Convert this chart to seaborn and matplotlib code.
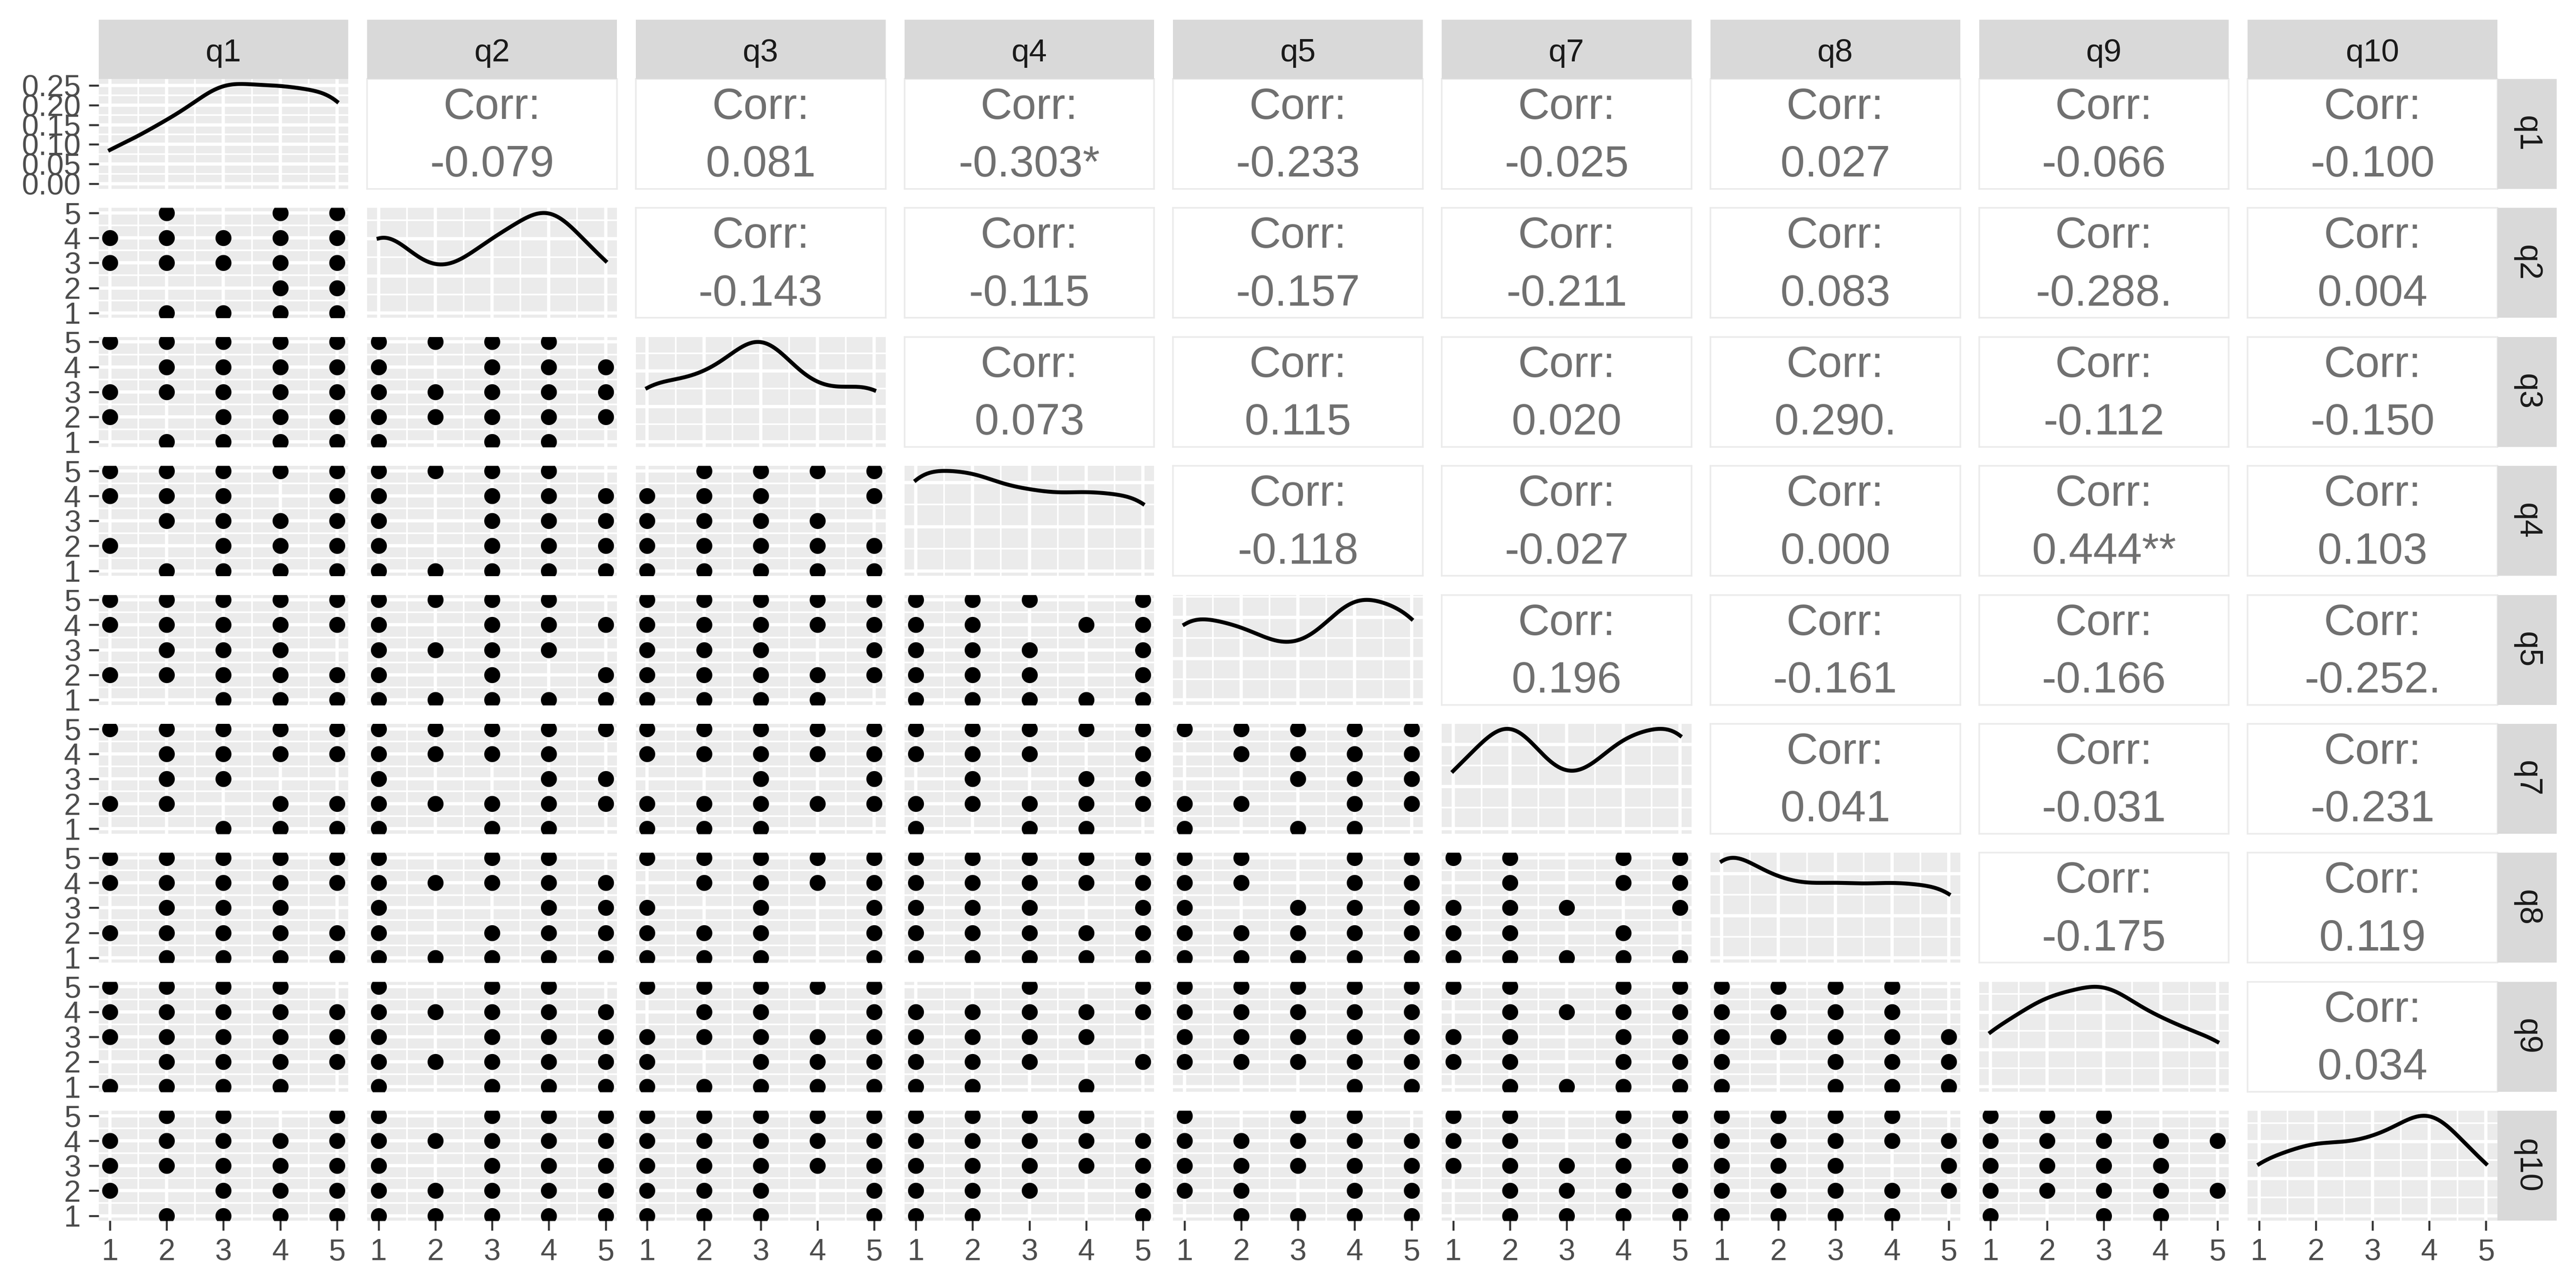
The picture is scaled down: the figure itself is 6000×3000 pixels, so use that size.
import numpy as np
import pandas as pd
import matplotlib.pyplot as plt
import seaborn as sns
from matplotlib.ticker import MultipleLocator, MaxNLocator, FormatStrFormatter

plt.rcParams["font.family"] = ["Liberation Sans", "DejaVu Sans"]

VARS = ["q1", "q2", "q3", "q4", "q5", "q7", "q8", "q9", "q10"]
LEVELS = [1, 2, 3, 4, 5]
Y_ORDER = [5, 4, 3, 2, 1]

# how many answers fall on each level 1..5 (drives the diagonal densities)
COUNTS_Q1 = [4, 7, 12, 11, 11]
COUNTS_Q2 = [12, 4, 9, 14, 6]
COUNTS_Q3 = [8, 8, 15, 6, 8]
COUNTS_Q4 = [11, 10, 8, 8, 8]
COUNTS_Q5 = [10, 8, 5, 12, 10]
COUNTS_Q7 = [6, 13, 4, 10, 12]
COUNTS_Q8 = [13, 8, 8, 8, 8]
COUNTS_Q9 = [7, 11, 13, 8, 6]
COUNTS_Q10 = [7, 9, 9, 14, 6]

# lower panels: one entry per column left of the diagonal,
# each entry = x values present at y = 5, 4, 3, 2, 1
PTS_Q2 = [["245", "12345", "12345", "45", "2345"]]
PTS_Q3 = [
    ["12345", "2345", "12345", "1345", "2345"],
    ["1234", "1345", "12345", "12345", "134"],
]
PTS_Q4 = [
    ["12345", "1235", "2345", "1345", "2345"],
    ["1234", "1345", "1345", "1345", "12345"],
    ["2345", "1235", "1234", "12345", "12345"],
]
PTS_Q5 = [
    ["12345", "12345", "234", "12345", "345"],
    ["1234", "1345", "1234", "135", "12345"],
    ["12345", "12345", "1235", "12345", "1234"],
    ["1235", "1245", "1235", "1235", "12345"],
]
PTS_Q7 = [
    ["12345", "2345", "23", "1245", "345"],
    ["12345", "1234", "145", "12345", "134"],
    ["12345", "12345", "35", "12345", "123"],
    ["12345", "1235", "245", "12345", "134"],
    ["12345", "2345", "345", "1245", "134"],
]
PTS_Q8 = [
    ["12345", "12345", "234", "12345", "2345"],
    ["134", "12345", "145", "1345", "12345"],
    ["12345", "2345", "135", "1235", "1235"],
    ["12345", "12345", "1235", "12345", "12345"],
    ["1245", "1245", "1345", "12345", "12345"],
    ["1245", "245", "1235", "124", "12345"],
]
PTS_Q9 = [
    ["1234", "12345", "12345", "2345", "1234"],
    ["134", "12345", "1345", "12345", "1345"],
    ["12345", "235", "12345", "1345", "12345"],
    ["35", "12345", "1234", "1235", "124"],
    ["12345", "12345", "12345", "12345", "45"],
    ["1245", "2345", "1245", "1245", "2345"],
    ["1234", "1234", "12345", "1345", "1345"],
]
PTS_Q10 = [
    ["235", "12345", "12345", "1345", "2345"],
    ["1345", "12345", "1345", "12345", "12345"],
    ["12345", "12345", "12345", "1235", "1235"],
    ["1234", "12345", "12345", "1235", "125"],
    ["134", "12345", "12345", "1245", "2345"],
    ["1245", "1245", "12345", "2345", "2345"],
    ["1234", "12345", "1235", "12345", "1234"],
    ["123", "12345", "1234", "12345", "134"],
]

# upper panels: correlation of the row variable with the columns to its right
CORR_Q1 = [-0.079, 0.081, -0.303, -0.233, -0.025, 0.027, -0.066, -0.100]
SIG_Q1 = ["", "", "*", "", "", "", "", ""]
CORR_Q2 = [-0.143, -0.115, -0.157, -0.211, 0.083, -0.288, 0.004]
SIG_Q2 = ["", "", "", "", "", ".", ""]
CORR_Q3 = [0.073, 0.115, 0.020, 0.290, -0.112, -0.150]
SIG_Q3 = ["", "", "", ".", "", ""]
CORR_Q4 = [-0.118, -0.027, 0.000, 0.444, 0.103]
SIG_Q4 = ["", "", "", "**", ""]
CORR_Q5 = [0.196, -0.161, -0.166, -0.252]
SIG_Q5 = ["", "", "", "."]
CORR_Q7 = [0.041, -0.031, -0.231]
SIG_Q7 = ["", "", ""]
CORR_Q8 = [-0.175, 0.119]
SIG_Q8 = ["", ""]
CORR_Q9 = [0.034]
SIG_Q9 = [""]

COUNTS = [COUNTS_Q1, COUNTS_Q2, COUNTS_Q3, COUNTS_Q4, COUNTS_Q5,
          COUNTS_Q7, COUNTS_Q8, COUNTS_Q9, COUNTS_Q10]
PTS = [[], PTS_Q2, PTS_Q3, PTS_Q4, PTS_Q5, PTS_Q7, PTS_Q8, PTS_Q9, PTS_Q10]
CORRS = [CORR_Q1, CORR_Q2, CORR_Q3, CORR_Q4, CORR_Q5, CORR_Q7, CORR_Q8, CORR_Q9]
SIGS = [SIG_Q1, SIG_Q2, SIG_Q3, SIG_Q4, SIG_Q5, SIG_Q7, SIG_Q8, SIG_Q9]

# long table of the scatter points
recs = []
for i, row in enumerate(PTS):
    for j, grid in enumerate(row):
        for yv, xs in zip(Y_ORDER, grid):
            for ch in xs:
                recs.append({"row": i, "col": j, "x": int(ch), "y": yv})
pts_df = pd.DataFrame(recs)

# layout in pixels of the 6000 x 3000 canvas
W, H = 6000, 3000
PX0, PSTEP, PW = 229.6, 625.7, 581.7
PY0, RSTEP, PH = 184.0, 300.4, 256.0
STRIP = 138.0
BW = 0.567

BG = "#EBEBEB"
STRIP_BG = "#D9D9D9"
TICK_KW = dict(length=5.5, width=1.1, color="#333333", labelsize=17,
               labelcolor="#4D4D4D", pad=4.4)


def rect(x, y, w, h):
    return [x / W, 1 - (y + h) / H, w / W, h / H]


def gg_panel(ax):
    ax.set_facecolor(BG)
    for s in ax.spines.values():
        s.set_visible(False)
    ax.set_axisbelow(True)
    ax.grid(True, which="major", color="white", linewidth=1.8)
    ax.grid(True, which="minor", color="white", linewidth=0.9)
    ax.set_xlim(0.8, 5.2)
    ax.xaxis.set_major_locator(MultipleLocator(1))
    ax.xaxis.set_minor_locator(MultipleLocator(0.5))
    ax.set_xlabel("")
    ax.set_ylabel("")
    ax.tick_params(which="both", length=0, labelbottom=False, labelleft=False)


fig = plt.figure(figsize=(20, 10), dpi=300)
n = len(VARS)

for i in range(n):
    for j in range(n):
        ax = fig.add_axes(rect(PX0 + j * PSTEP, PY0 + i * RSTEP, PW, PH))
        if i > j:
            sub = pts_df[(pts_df["row"] == i) & (pts_df["col"] == j)]
            sns.scatterplot(data=sub, x="x", y="y", color="black", s=80,
                            linewidth=0, ax=ax, legend=False)
            gg_panel(ax)
            ax.set_ylim(0.8, 5.2)
            ax.yaxis.set_major_locator(MultipleLocator(1))
            ax.yaxis.set_minor_locator(MultipleLocator(0.5))
        elif i == j:
            vals = np.repeat(LEVELS, COUNTS[i])
            sns.kdeplot(x=vals, bw_method=BW / np.std(vals, ddof=1), cut=0,
                        color="black", linewidth=2.2, ax=ax)
            gg_panel(ax)
            top = ax.lines[0].get_ydata().max()
            ax.set_ylim(-0.05 * top, 1.05 * top)
            if i == 0:
                ax.yaxis.set_major_locator(MultipleLocator(0.05))
                ax.yaxis.set_minor_locator(MultipleLocator(0.025))
                ax.yaxis.set_major_formatter(FormatStrFormatter("%.2f"))
            else:
                ax.yaxis.set_major_locator(MaxNLocator(nbins=4, steps=[1, 2, 5, 10]))
                ax.yaxis.set_minor_locator(MaxNLocator(nbins=8, steps=[1, 2, 5, 10]))
        else:
            ax.set_facecolor("white")
            for s in ax.spines.values():
                s.set_color(BG)
                s.set_linewidth(0.9)
            ax.set_xticks([])
            ax.set_yticks([])
            r = CORRS[i][j - i - 1]
            sig = SIGS[i][j - i - 1]
            ax.text(0.5, 0.637, "Corr:", transform=ax.transAxes, ha="center",
                    va="baseline", fontsize=24.5, color="#707070")
            ax.text(0.5, 0.112, f"{r:.3f}{sig}", transform=ax.transAxes,
                    ha="center", va="baseline", fontsize=24.5, color="#707070")
            continue

        if j == 0:
            ax.tick_params(axis="y", which="major", labelleft=True, **TICK_KW)
        if i == n - 1:
            ax.tick_params(axis="x", which="major", labelbottom=True, **TICK_KW)

# facet strips
for j, v in enumerate(VARS):
    sax = fig.add_axes(rect(PX0 + j * PSTEP, PY0 - STRIP, PW, STRIP))
    sax.set_facecolor(STRIP_BG)
    for s in sax.spines.values():
        s.set_visible(False)
    sax.set_xticks([])
    sax.set_yticks([])
    sax.text(0.5, 0.3, v, transform=sax.transAxes, ha="center", va="baseline",
             fontsize=18, color="#1A1A1A")

for i, v in enumerate(VARS):
    sax = fig.add_axes(rect(PX0 + (n - 1) * PSTEP + PW, PY0 + i * RSTEP, STRIP, PH))
    sax.set_facecolor(STRIP_BG)
    for s in sax.spines.values():
        s.set_visible(False)
    sax.set_xticks([])
    sax.set_yticks([])
    sax.text(0.5, 0.5, v, transform=sax.transAxes, ha="center", va="center",
             rotation=-90, fontsize=18, color="#1A1A1A")

fig.savefig("out.png", dpi=300)
